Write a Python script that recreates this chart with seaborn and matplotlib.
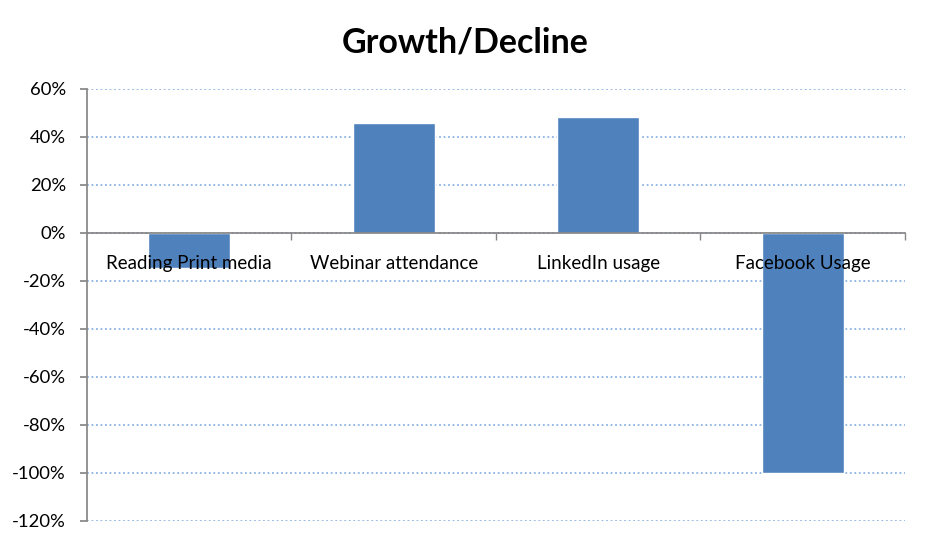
import matplotlib

matplotlib.use("Agg")
import matplotlib.pyplot as plt
import pandas as pd
import seaborn as sns
from matplotlib.ticker import FixedLocator, PercentFormatter

categories: list[str] = [
    "Reading Print media",
    "Webinar attendance",
    "LinkedIn usage",
    "Facebook Usage",
]
change_pct: list[float] = [-14.5, 46.0, 48.5, -100.0]

sns.set_theme(style="white")
plt.rcParams["font.family"] = ["Lato", "DejaVu Sans"]
plt.rcParams["axes.unicode_minus"] = False

df = pd.DataFrame({"category": categories, "change": change_pct})

fig = plt.figure(figsize=(9.3, 5.46), dpi=100)
ax = fig.add_axes([0.0935, 0.0458, 0.8795, 0.7912])

sns.barplot(
    data=df, x="category", y="change", color="#4F81BD", width=0.4,
    saturation=1, ax=ax, zorder=3,
)

ax.set_xlim(-0.5, 3.5)
ax.set_ylim(-120, 60)
ax.set_yticks(range(-120, 61, 20))
ax.yaxis.set_major_formatter(PercentFormatter(decimals=0))
ax.yaxis.grid(True, linestyle=(0, (1, 1.5)), color="#8DB3E2", linewidth=1.3)
ax.set_axisbelow(True)
# category labels sit on the zero line, drawn over the bars
ax.xaxis.set_zorder(5)

for side in ["top", "right"]:
    ax.spines[side].set_visible(False)
ax.spines["left"].set_color("#868686")
ax.spines["bottom"].set_color("#868686")
ax.spines["bottom"].set_position(("data", 0))
ax.spines["bottom"].set_zorder(4)

ax.tick_params(axis="y", left=True, length=5, color="#868686",
               labelsize=13.3, labelcolor="black", pad=10)
ax.tick_params(axis="x", which="major", bottom=False, labelsize=13.5,
               labelcolor="black", pad=10)
ax.xaxis.set_minor_locator(FixedLocator([0.5, 1.5, 2.5, 3.5]))
ax.tick_params(axis="x", which="minor", bottom=True, length=5,
               color="#868686", direction="out")

ax.set_xlabel(None)
ax.set_ylabel(None)
fig.suptitle("Growth/Decline", x=0.5, y=0.923, va="center", fontsize=24.5,
             fontweight="bold", color="black")

fig.savefig("out.png", dpi=100)
